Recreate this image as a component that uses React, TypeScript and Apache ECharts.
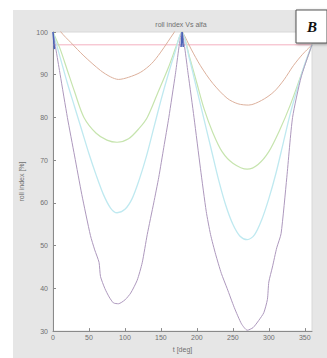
import React, { useEffect, useRef } from "react";
import * as echarts from "echarts";

const title = "roll index Vs alfa";
const xLabel = "t [deg]";
const yLabel = "roll index [%]";
const panelLetter = "B";

const xTicks = { min: 0, max: 360, interval: 50 };
const yTicks = { min: 30, max: 100, interval: 10 };

const refLine: number[][] = [[0, 97], [360, 97]];

const blueCurve: (number[] | null)[] = [
  [0, 100], [1, 98], [2, 96], null,
  [178, 96.5], [179.5, 100], [181, 96.5],
];

const orangeCurve: number[][] = [
  [0, 103], [11, 100], [25, 97.5], [43, 94.4], [66, 91.0], [80, 89.5], [91, 88.9],
  [105, 89.4], [122, 90.6], [137, 92.6], [149, 95.1], [160, 97.8], [168, 99.8],
  [174, 101.2], [180, 100], [192, 96], [205, 92.1], [222, 88], [242, 84.5],
  [257, 83.2], [272, 82.9], [290, 84], [307, 86.0], [321, 88.8], [334, 92.1],
  [347, 94.8], [360, 97],
];

const greenCurve: number[][] = [
  [0, 100], [10, 96], [20, 91], [30, 86], [43, 80], [60, 76.3], [75, 74.7],
  [89, 74.2], [105, 75], [120, 77.5], [131, 80], [145, 85.5], [160, 91.5],
  [172, 97], [179, 100], [190, 94], [200, 88], [210, 82], [222, 76.5],
  [235, 72], [250, 69.3], [270, 67.9], [285, 69], [300, 72], [315, 77],
  [330, 83], [345, 90], [360, 97],
];

const cyanCurve: number[][] = [
  [0, 100], [10, 94], [20, 88], [30, 82.5], [40, 77], [50, 71.5], [60, 66.5],
  [70, 62], [80, 58.8], [89, 57.7], [100, 58.5], [110, 61], [120, 65.5],
  [130, 71], [140, 77.5], [150, 84], [160, 90], [170, 95.5], [179, 100],
  [190, 93.5], [200, 86.5], [210, 79.5], [220, 72.5], [230, 65.5], [240, 59.5],
  [250, 55], [260, 52.2], [270, 51.4], [280, 52.5], [290, 56], [300, 61],
  [310, 67], [320, 74], [330, 81], [340, 87], [350, 92.5], [360, 97],
];

const purpleCurve: number[][] = [
  [0, 100], [10, 90], [20, 80], [30, 71], [40, 62], [52, 52.4], [58, 49],
  [64, 46.1], [66, 42.8], [72, 40], [78, 38], [84, 36.6], [91, 36.4],
  [100, 37.3], [108, 38.9], [117, 41.9], [124, 46], [131, 52.6], [140, 60],
  [147, 66], [154, 73], [161, 80], [170, 90], [179, 100], [188, 90],
  [196, 80], [205, 68], [213, 58], [219, 52.6], [226, 48], [234, 43.5],
  [242, 40], [252, 35.5], [262, 31.7], [270, 30.2], [278, 30.8], [286, 32.5],
  [293, 34.3], [298, 37.4], [300, 41.5], [305, 45], [311, 49.5], [317, 52.8],
  [325, 66], [333, 80], [345, 89.5], [360, 97],
];

const colors = {
  ref: "#f4b0c0",
  blue: "#4a62b8",
  orange: "#dcb09c",
  green: "#c6e4ae",
  cyan: "#bfe9f0",
  purple: "#ad98bd",
};

const textColor = "#707070";
const font = "Liberation Sans";

export default function App() {
  const ref = useRef<HTMLDivElement>(null);
  useEffect(() => {
    if (!ref.current) return;
    const chart = echarts.init(ref.current, undefined, { renderer: "svg" });
    const lineSeries = (name: string, data: any[], color: string, width = 1, smooth: number | boolean = 0.3) => ({
      name,
      type: "line",
      data,
      showSymbol: false,
      symbol: "none",
      smooth,
      clip: true,
      connectNulls: false,
      lineStyle: { color, width },
      z: 3,
    });
    chart.setOption({
      animation: false,
      backgroundColor: "#ffffff",
      graphic: [
        {
          type: "rect",
          shape: { x: 13, y: 10, width: 314, height: 348 },
          style: { fill: "#e6e6e6" },
          z: -10,
          silent: true,
        },
        {
          type: "rect",
          shape: { x: 296, y: 10, width: 31, height: 33 },
          style: { fill: "#ffffff", stroke: "#555555", lineWidth: 1, shadowBlur: 3, shadowColor: "rgba(0,0,0,0.35)", shadowOffsetX: 1, shadowOffsetY: 1 },
          z: 100,
        },
        {
          type: "text",
          x: 312,
          y: 27,
          style: {
            text: panelLetter,
            fontFamily: "Liberation Serif",
            fontWeight: "bold",
            fontStyle: "italic",
            fontSize: 15,
            fill: "#111111",
            align: "center",
            verticalAlign: "middle",
          },
          z: 101,
        },
        {
          type: "text",
          x: 181,
          y: 24,
          style: {
            text: title,
            fontFamily: font,
            fontSize: 7,
            fill: textColor,
            align: "center",
            verticalAlign: "middle",
          },
          z: 50,
        },
      ],
      grid: {
        left: 53,
        top: 32,
        right: 15,
        bottom: 19,
        show: true,
        backgroundColor: "#ffffff",
        borderColor: "#d8d8d8",
        borderWidth: 1,
      },
      xAxis: {
        type: "value",
        min: xTicks.min,
        max: xTicks.max,
        interval: xTicks.interval,
        name: xLabel,
        nameLocation: "middle",
        nameGap: 10,
        nameTextStyle: { fontFamily: font, fontSize: 7, color: textColor },
        axisLine: { show: true, onZero: false, lineStyle: { color: "#8a8a8a", width: 1 } },
        axisTick: { show: true, inside: true, length: 3, lineStyle: { color: "#8a8a8a" } },
        axisLabel: { fontFamily: font, fontSize: 7, color: textColor, margin: 3, showMaxLabel: false },
        splitLine: { show: false },
      },
      yAxis: {
        type: "value",
        min: yTicks.min,
        max: yTicks.max,
        interval: yTicks.interval,
        name: yLabel,
        nameLocation: "middle",
        nameGap: 20,
        nameRotate: 90,
        nameTextStyle: { fontFamily: font, fontSize: 7, color: textColor },
        axisLine: { show: true, onZero: false, lineStyle: { color: "#8a8a8a", width: 1 } },
        axisTick: { show: true, inside: true, length: 3, lineStyle: { color: "#8a8a8a" } },
        axisLabel: { fontFamily: font, fontSize: 7, color: textColor, margin: 5 },
        splitLine: { show: false },
      },
      series: [
        lineSeries("ref", refLine, colors.ref, 1, false),
        lineSeries("orange", orangeCurve, colors.orange, 1),
        lineSeries("green", greenCurve, colors.green, 1.2),
        lineSeries("cyan", cyanCurve, colors.cyan, 1.3),
        lineSeries("purple", purpleCurve, colors.purple, 1, 0.2),
        lineSeries("blue", blueCurve, colors.blue, 1.5, false),
      ],
    });
    return () => chart.dispose();
  }, []);
  return (
    <div
      ref={ref}
      style={{ position: "absolute", left: 0, top: 0, width: 327, height: 358 }}
    />
  );
}
